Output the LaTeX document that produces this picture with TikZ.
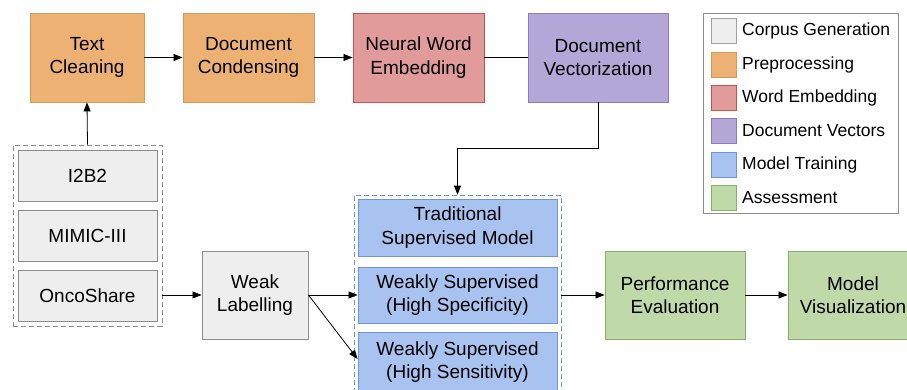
\documentclass[tikz,border=0pt]{standalone}
\usepackage{fontspec}
\setmainfont{Liberation Sans}
\usetikzlibrary{arrows.meta,fit}
\definecolor{corpusfill}{HTML}{EEEEEE}
\definecolor{corpusline}{HTML}{8C8C8C}
\definecolor{prepfill}{HTML}{EDB273}
\definecolor{prepline}{HTML}{D49A5C}
\definecolor{embedfill}{HTML}{E29B9B}
\definecolor{embedline}{HTML}{C8504F}
\definecolor{vecfill}{HTML}{B2A7D6}
\definecolor{vecline}{HTML}{8A7CC4}
\definecolor{trainfill}{HTML}{A8C3F0}
\definecolor{trainline}{HTML}{6D95DC}
\definecolor{assessfill}{HTML}{C0D9A9}
\definecolor{assessline}{HTML}{86B16B}

\begin{document}
\begin{tikzpicture}[x = 1pt, y = -1pt,
  box/.style = {draw, line width = 0.9pt, align = center, inner sep = 0pt,
    font = \fontsize{19}{23.5}\selectfont},
  corpusbox/.style = {box, fill = corpusfill, draw = corpusline},
  prepbox/.style = {box, fill = prepfill, draw = prepline},
  embedbox/.style = {box, fill = embedfill, draw = embedline},
  vecbox/.style = {box, fill = vecfill, draw = vecline},
  trainbox/.style = {box, fill = trainfill, draw = trainline},
  assessbox/.style = {box, fill = assessfill, draw = assessline},
  groupbox/.style = {dash pattern = on 5pt off 3pt, line width = 0.8pt},
  swatch/.style = {draw, line width = 0.9pt, minimum width = 25pt, minimum height = 25pt, inner sep = 0pt},
  legtext/.style = {anchor = west, inner sep = 0pt, font = \fontsize{17.5}{21}\selectfont},
  arr/.style = {-{Triangle[length = 9pt, width = 7pt]}, line width = 0.8pt}]
\useasboundingbox (0,0) rectangle (907,389);
\clip (0,0) rectangle (907,389);

% top row
\node [prepbox, minimum width = 114pt, minimum height = 89pt] (clean) at (87,57.5) {Text\\Cleaning};
\node [prepbox, minimum width = 131pt, minimum height = 89pt] (condense) at (248.5,57.5) {Document\\Condensing};
\node [embedbox, minimum width = 131pt, minimum height = 89pt] (embed) at (418.5,57.5) {Neural Word\\Embedding};
\node [vecbox, minimum width = 140pt, minimum height = 89pt] (vector) at (598,57.5) {Document\\Vectorization};

% corpora
\node [corpusbox, minimum width = 139pt, minimum height = 51pt] (i2b2) at (87.5,175.5) {I2B2};
\node [corpusbox, minimum width = 139pt, minimum height = 51pt] (mimic) at (87.5,235.5) {MIMIC-III};
\node [corpusbox, minimum width = 139pt, minimum height = 51pt] (onco) at (87.5,295.5) {OncoShare};
\node [groupbox, draw = corpusline, inner sep = 4.5pt, fit = (i2b2) (onco)] (corpus) {};

\node [corpusbox, minimum width = 106pt, minimum height = 88pt] (weak) at (255,295) {Weak\\Labelling};

% models
\node [trainbox, minimum width = 199pt, minimum height = 57pt] (trad) at (457.5,227.5) {Traditional\\Supervised Model};
\node [trainbox, minimum width = 199pt, minimum height = 56pt] (spec) at (457.5,295) {Weakly Supervised\\(High Specificity)};
\node [trainbox, minimum width = 199pt, minimum height = 60pt] (sens) at (457.5,362) {Weakly Supervised\\(High Sensitivity)};
\node [groupbox, draw = trainline, inner sep = 3.5pt, fit = (trad) (sens)] (models) {};

% assessment
\node [assessbox, minimum width = 140pt, minimum height = 88pt] (perf) at (675,295) {Performance\\Evaluation};
\node [assessbox, minimum width = 130pt, minimum height = 88pt] (vis) at (853,295) {Model\\Visualization};

% connectors
\draw [arr] (clean) -- (condense);
\draw [arr] (condense) -- (embed);
\draw [line width = 0.8pt] (embed) -- (vector);
\draw [arr] (vector.south) -- ++(0,46) -| (models.north);
\draw [arr] (corpus.north) -- (clean.south);
\draw [arr] (corpus.east |- weak.west) -- (weak.west);
\draw [arr] (weak.east) -- (spec.west);
\draw [arr] (weak.east) -- ([yshift = 3pt]sens.west);
\draw [arr] (models.east |- perf.west) -- (perf.west);
\draw [arr] (perf) -- (vis);

% legend
\node [draw = black!45, line width = 0.8pt, minimum width = 195pt, minimum height = 200pt] (legend) at (800.5,113) {};
\node [swatch, fill = corpusfill, draw = corpusline!80] (lcorpus) at (723.5,31) {};
\node [swatch, fill = prepfill, draw = prepline] (lprep) at (723.5,64.5) {};
\node [swatch, fill = embedfill, draw = embedline] (lembed) at (723.5,97.5) {};
\node [swatch, fill = vecfill, draw = vecline] (lvec) at (723.5,131) {};
\node [swatch, fill = trainfill, draw = trainline] (ltrain) at (723.5,164.5) {};
\node [swatch, fill = assessfill, draw = assessline] (lassess) at (723.5,197.5) {};
\node [legtext] (tcorpus) at (742,31) {Corpus Generation};
\node [legtext] (tprep) at (742,64.5) {Preprocessing};
\node [legtext] (tembed) at (742,97.5) {Word Embedding};
\node [legtext] (tvec) at (742,131) {Document Vectors};
\node [legtext] (ttrain) at (742,164.5) {Model Training};
\node [legtext] (tassess) at (742,197.5) {Assessment};
\end{tikzpicture}
\end{document}
